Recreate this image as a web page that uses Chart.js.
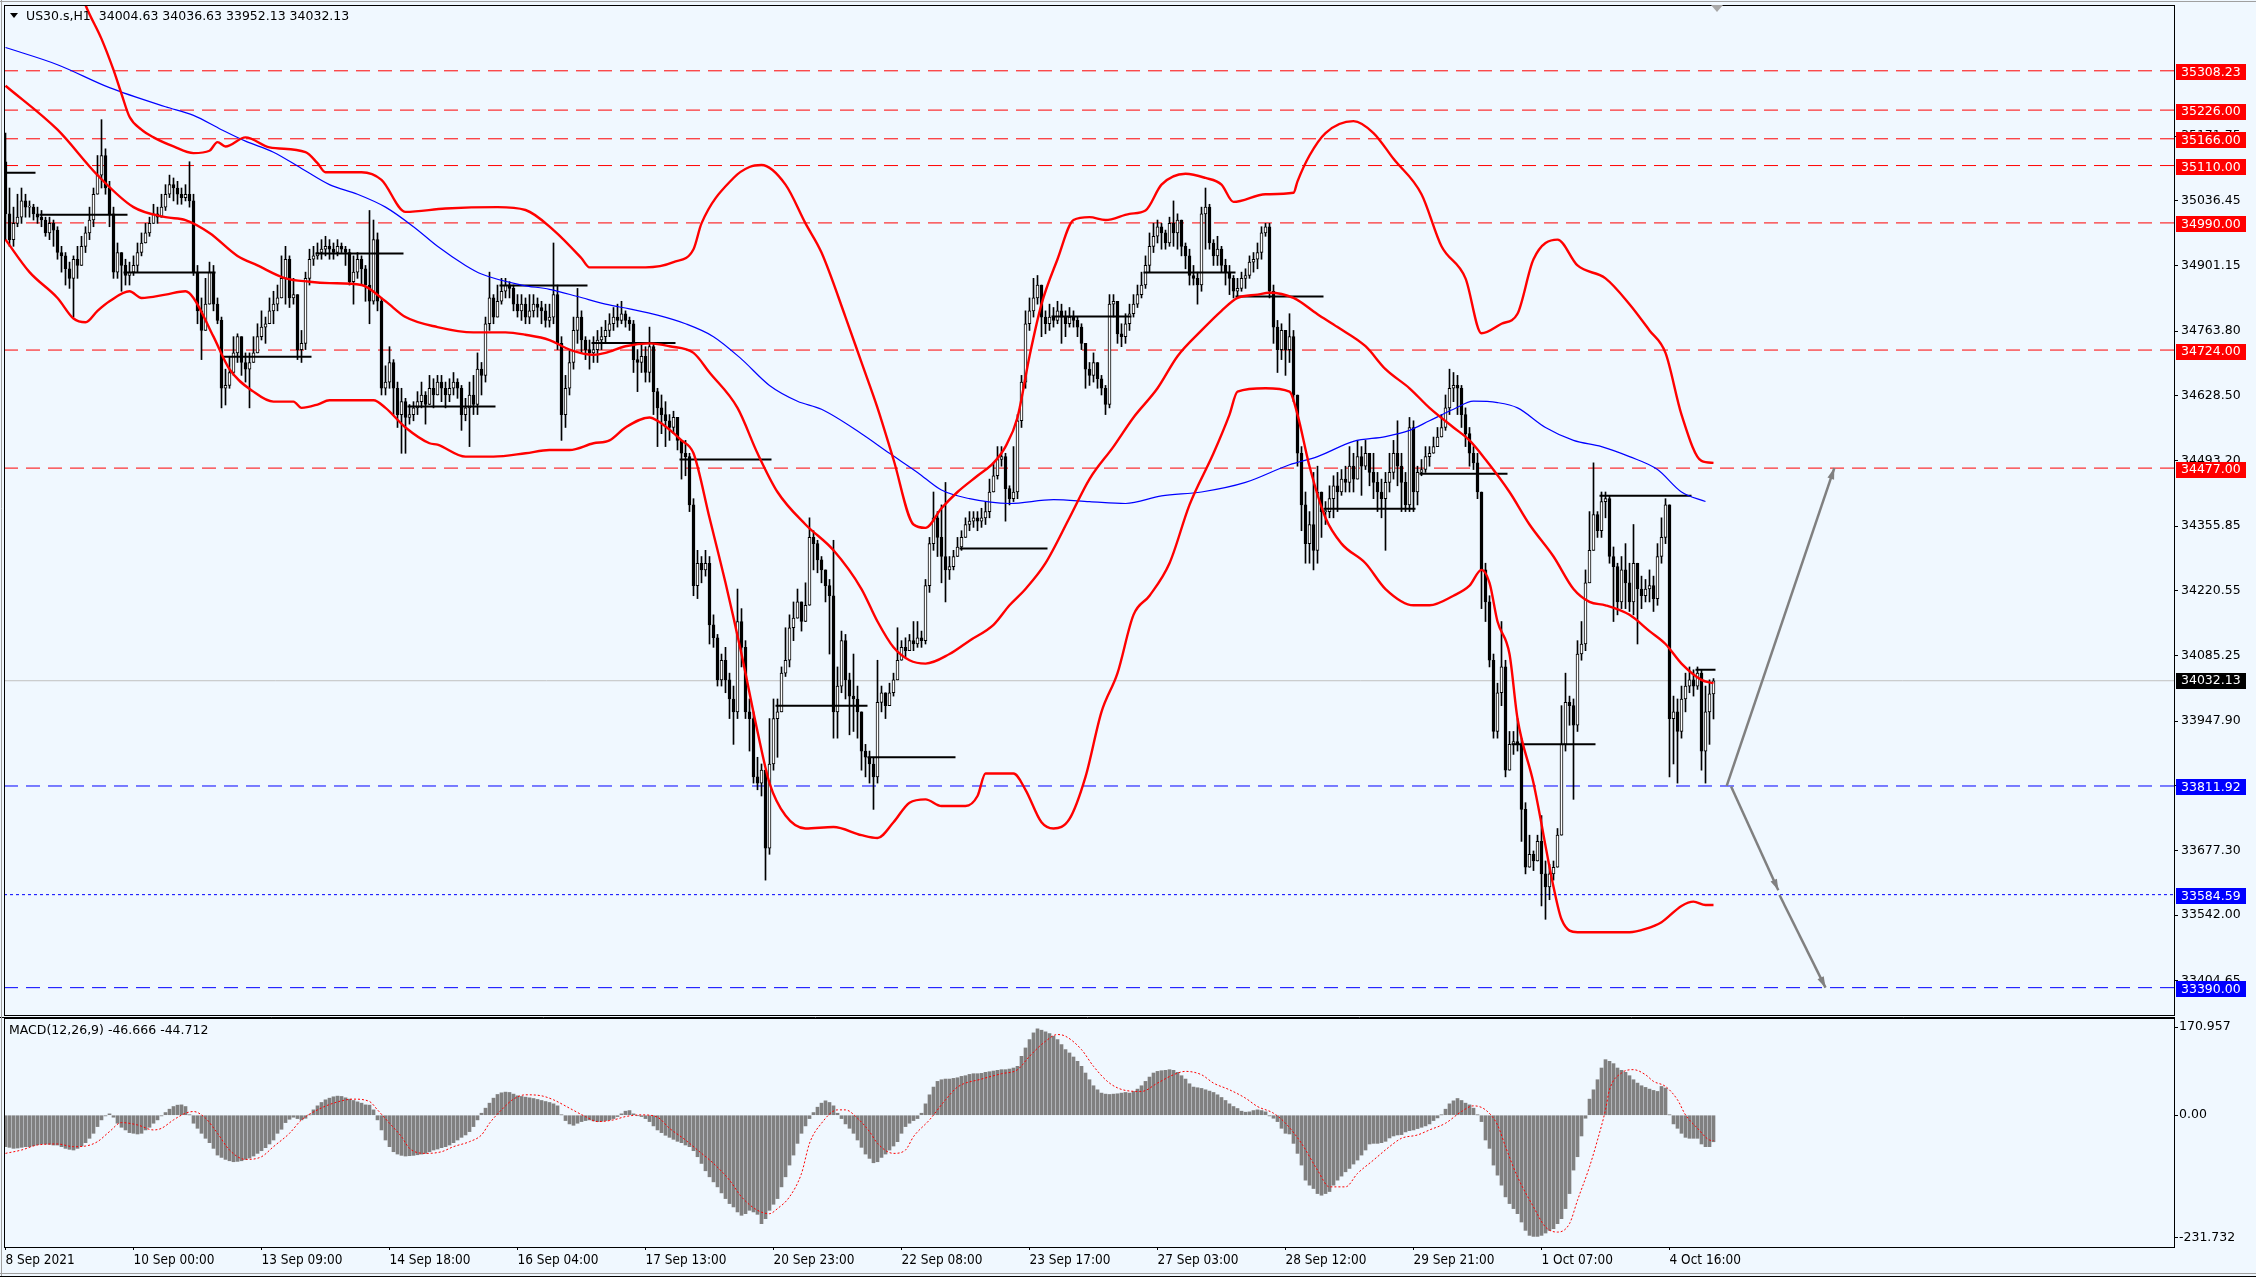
<!DOCTYPE html>
<html>
<head>
<meta charset="utf-8">
<script src="https://cdn.jsdelivr.net/npm/chart.js@4.4.0/dist/chart.umd.min.js"></script>
<style>
html, body { margin: 0; padding: 0; background: #F0F8FF; }
#wrap { position: relative; width: 2256px; height: 1277px; overflow: hidden; background: #F0F8FF; }
canvas { position: absolute; left: 0; }
#main { top: 0; }
#macd { top: 1017px; }
</style>
</head>
<body>
<div id="wrap">
  <canvas id="main" width="2256" height="1017"></canvas>
  <canvas id="macd" width="2256" height="260"></canvas>
</div>
<script>
// ---- candles (US30.s H1), bar 0 = 8 Sep 2021 ----
const firstOpen = 35118;
const closes = [
35009,34955,34989,35002,35036,35023,35023,35009,35002,34996,
34969,34989,34975,34928,34921,34894,34874,34914,34901,34941,
34969,34996,35050,35090,35131,35063,35009,34887,34928,34901,
34880,34887,34901,34928,34948,34969,34989,35009,35002,35023,
35050,35070,35063,35050,35043,35050,35036,34887,34806,34765,
34820,34887,34820,34786,34644,34650,34677,34718,34752,34698,
34684,34698,34718,34752,34772,34779,34806,34820,34833,34874,
34914,34833,34840,34725,34738,34874,34914,34921,34928,34935,
34941,34935,34928,34941,34935,34928,34867,34887,34914,34894,
34860,34826,34955,34826,34644,34657,34698,34644,34589,34616,
34583,34589,34603,34616,34630,34610,34644,34630,34657,34644,
34630,34644,34657,34644,34589,34603,34630,34610,34684,34671,
34779,34833,34793,34826,34847,34860,34853,34820,34806,34820,
34793,34806,34820,34813,34806,34786,34793,34840,34738,34589,
34644,34698,34765,34793,34745,34725,34718,34725,34745,34752,
34765,34779,34793,34786,34800,34786,34779,34704,34698,34711,
34677,34731,34637,34603,34589,34576,34562,34583,34535,34508,
34501,34400,34231,34278,34264,34278,34149,34122,34034,34075,
34034,33994,33967,34156,34102,33967,33953,33831,33818,33845,
33682,33858,33953,33967,34048,34075,34143,34163,34197,34156,
34190,34332,34319,34285,34264,34231,34210,33967,34021,34116,
34034,34000,33994,33967,33885,33872,33858,33831,33987,34007,
33980,34007,34034,34075,34102,34095,34116,34109,34122,34116,
34231,34319,34373,34332,34292,34264,34271,34292,34312,34332,
34359,34366,34373,34366,34373,34386,34427,34461,34495,34501,
34434,34413,34427,34576,34657,34779,34806,34833,34860,34793,
34779,34793,34786,34806,34793,34779,34793,34786,34772,34738,
34684,34671,34698,34664,34644,34610,34820,34826,34758,34752,
34779,34800,34820,34840,34860,34901,34941,34962,34982,34969,
34948,34989,34969,34996,34941,34921,34880,34874,34860,35009,
35023,34948,34921,34935,34901,34887,34874,34847,34853,34874,
34880,34908,34914,34928,34969,34982,34847,34772,34725,34765,
34725,34752,34630,34508,34400,34319,34359,34305,34427,34386,
34386,34413,34440,34427,34454,34447,34481,34454,34501,34481,
34508,34468,34447,34427,34413,34447,34468,34508,34481,34447,
34400,34562,34427,34468,34474,34501,34508,34522,34542,34562,
34603,34644,34650,34644,34589,34549,34508,34488,34427,34264,
34197,34075,33926,34007,34061,33845,33899,33905,33899,33763,
33642,33669,33655,33696,33628,33601,33628,33642,33709,33899,
33987,33980,33939,34088,34109,34237,34305,34380,34346,34407,
34413,34292,34271,34197,34264,34237,34197,34278,34224,34210,
34224,34231,34204,34292,34332,34400,33953,33967,33926,33994,
34021,34034,34021,34048,33885,33967,34004.63,34032.13
];
const highs = [
35178,35063,35023,35050,35063,35050,35036,35029,35023,35016,
35002,35002,34996,34982,34941,34928,34908,34921,34941,34962,
34982,35023,35063,35131,35206,35145,35077,35023,34948,34928,
34914,34908,34921,34948,34969,34989,35002,35029,35023,35050,
35070,35090,35084,35077,35063,35070,35118,35050,34901,34833,
34874,34908,34901,34833,34793,34684,34711,34752,34758,34738,
34718,34718,34752,34779,34806,34793,34833,34847,34860,34921,
34941,34921,34874,34840,34765,34887,34935,34941,34948,34955,
34962,34955,34948,34955,34948,34941,34935,34921,34928,34921,
34901,35016,34996,34969,34833,34691,34731,34704,34657,34644,
34623,34610,34616,34637,34657,34637,34671,34664,34671,34671,
34657,34664,34677,34664,34650,34623,34657,34671,34718,34698,
34793,34887,34840,34860,34874,34874,34867,34860,34840,34840,
34833,34840,34840,34833,34826,34820,34820,34948,34860,34752,
34671,34725,34793,34853,34806,34752,34745,34752,34765,34772,
34786,34800,34813,34820,34826,34806,34793,34786,34725,34738,
34731,34772,34738,34644,34630,34616,34589,34596,34576,34535,
34535,34508,34413,34305,34292,34305,34292,34170,34129,34088,
34102,34048,34021,34224,34183,34116,33994,33967,33872,33858,
33845,33953,33994,33994,34061,34143,34170,34197,34224,34190,
34237,34373,34346,34326,34292,34264,34244,34326,34061,34136,
34129,34048,34088,34021,33939,33899,33885,33872,34075,34021,
34007,34027,34048,34143,34116,34122,34129,34156,34156,34136,
34244,34332,34427,34386,34400,34447,34292,34305,34332,34346,
34373,34386,34386,34386,34393,34407,34454,34488,34522,34522,
34508,34440,34522,34589,34671,34806,34833,34874,34880,34860,
34806,34820,34813,34826,34820,34806,34813,34806,34793,34779,
34738,34698,34718,34698,34671,34650,34840,34840,34820,34779,
34800,34820,34840,34860,34887,34921,34969,34989,34996,34989,
34975,35002,35036,35009,34996,34948,34935,34901,34887,35023,
35063,35029,34955,34962,34941,34914,34901,34880,34874,34887,
34894,34921,34928,34948,34982,34989,34989,34860,34786,34779,
34752,34800,34765,34630,34522,34427,34386,34468,34481,34413,
34407,34440,34461,34468,34474,34481,34522,34508,34535,34522,
34535,34508,34508,34468,34454,34468,34508,34535,34576,34508,
34468,34583,34576,34481,34495,34522,34522,34542,34562,34589,
34630,34684,34677,34671,34650,34603,34562,34522,34508,34427,
34278,34210,34088,34027,34156,34075,33926,33926,33953,33912,
33777,33709,33676,33709,33750,33655,33648,33655,33723,33980,
34048,34000,33994,34116,34156,34264,34386,34488,34386,34427,
34427,34420,34312,34278,34292,34319,34278,34359,34251,34251,
34244,34264,34251,34319,34373,34413,34400,34000,33994,34021,
34048,34061,34055,34061,34055,34021,34034,34036.63
];
const lows = [
34955,34941,34941,34982,34989,35002,35002,34996,34989,34982,
34962,34955,34941,34914,34887,34860,34853,34793,34874,34901,
34928,34955,34982,35050,35063,35050,34982,34874,34874,34847,
34860,34860,34880,34887,34921,34948,34962,34989,34989,35002,
35016,35043,35036,35029,35029,35036,35023,34880,34779,34704,
34779,34820,34806,34779,34603,34609,34644,34671,34698,34671,
34657,34603,34698,34718,34745,34738,34779,34779,34806,34847,
34820,34813,34820,34704,34698,34725,34860,34901,34914,34914,
34921,34914,34914,34921,34928,34901,34860,34820,34874,34860,
34826,34779,34820,34806,34630,34630,34644,34589,34562,34508,
34508,34569,34576,34589,34603,34569,34610,34603,34630,34616,
34603,34616,34630,34623,34556,34576,34522,34589,34589,34630,
34657,34765,34779,34793,34820,34833,34833,34806,34793,34786,
34779,34779,34793,34793,34779,34772,34772,34779,34725,34535,
34562,34630,34684,34738,34718,34704,34684,34698,34698,34725,
34738,34752,34765,34772,34779,34772,34765,34677,34637,34677,
34657,34657,34589,34522,34549,34522,34535,34549,34515,34454,
34461,34386,34210,34204,34237,34251,34109,34102,34021,34021,
34007,33953,33899,33953,34061,33953,33885,33818,33804,33791,
33615,33669,33845,33872,33967,34041,34061,34116,34170,34136,
34156,34190,34264,34258,34237,34197,34088,33912,33912,34007,
33994,33919,33926,33912,33845,33831,33818,33763,33818,33967,
33953,33980,34000,34034,34075,34082,34095,34095,34102,34102,
34109,34217,34305,34292,34237,34197,34244,34264,34292,34305,
34332,34346,34353,34346,34353,34359,34373,34427,34454,34481,
34366,34400,34407,34413,34562,34644,34765,34793,34820,34752,
34758,34765,34772,34779,34738,34752,34772,34772,34752,34725,
34644,34650,34657,34644,34630,34589,34603,34793,34738,34731,
34738,34765,34793,34813,34833,34853,34887,34928,34948,34935,
34935,34941,34941,34935,34921,34894,34860,34860,34820,34847,
34935,34935,34901,34901,34887,34860,34840,34833,34833,34847,
34853,34874,34887,34894,34914,34962,34833,34738,34677,34704,
34671,34698,34616,34481,34346,34278,34278,34264,34278,34332,
34359,34373,34373,34386,34420,34427,34427,34427,34454,34420,
34474,34440,34413,34386,34373,34305,34427,34454,34440,34386,
34386,34386,34386,34400,34461,34468,34481,34508,34522,34542,
34556,34589,34616,34589,34562,34522,34481,34474,34413,34183,
34156,34061,33912,33912,33980,33831,33851,33878,33885,33696,
33628,33648,33635,33655,33561,33533,33574,33615,33642,33709,
33885,33939,33784,33926,34075,34095,34237,34319,34332,34332,
34373,34278,34156,34170,34183,34183,34177,34170,34109,34183,
34197,34197,34177,34190,34278,34319,33831,33858,33818,33912,
33967,34007,34000,34014,33845,33818,33899,33952.13
];

// ---- indicator lines: [bar, value] ----
const bbUpper = [[17,35520],[20,35446],[24,35375],[27,35310],[29,35260],[31,35212],[34,35185],[37,35169],[42,35150],[47,35136],[51,35141],[53,35159],[55,35150],[60,35169],[66,35148],[75,35138],[78,35115],[80,35096],[89,35096],[94,35080],[100,35013],[110,35020],[123,35023],[130,35017],[137,34975],[144,34916],[146,34897],[160,34897],[167,34908],[172,34935],[174,34989],[182,35084],[186,35107],[189,35111],[195,35070],[200,34989],[204,34928],[210,34793],[214,34698],[218,34603],[222,34495],[227,34359],[230,34352],[234,34393],[238,34427],[243,34461],[247,34488],[250,34522],[253,34583],[256,34711],[259,34820],[263,34914],[267,34996],[271,35002],[275,34996],[281,35009],[285,35016],[289,35070],[295,35093],[300,35084],[304,35070],[307,35034],[315,35050],[322,35053],[323,35077],[326,35131],[330,35178],[337,35203],[342,35178],[347,35124],[354,35050],[359,34941],[365,34874],[369,34759],[374,34779],[378,34800],[382,34914],[388,34955],[393,34901],[400,34874],[406,34820],[411,34765],[415,34718],[419,34589],[424,34492],[427,34488]];
const bbMiddle = [[0,35277],[13,35185],[23,35090],[32,35023],[40,35002],[45,34996],[51,34969],[58,34921],[63,34901],[70,34874],[76,34867],[81,34864],[89,34860],[95,34826],[100,34793],[108,34772],[117,34761],[125,34761],[130,34756],[136,34745],[141,34725],[147,34714],[150,34718],[155,34732],[161,34738],[166,34732],[172,34718],[176,34677],[183,34603],[188,34508],[193,34427],[200,34359],[207,34305],[214,34224],[218,34156],[222,34102],[226,34075],[230,34068],[236,34088],[241,34116],[247,34149],[251,34190],[255,34224],[260,34278],[266,34373],[271,34454],[277,34522],[282,34583],[288,34644],[293,34711],[299,34765],[304,34806],[308,34833],[313,34840],[316,34844],[322,34833],[328,34799],[333,34772],[340,34732],[345,34684],[351,34644],[356,34603],[362,34562],[366,34535],[370,34495],[376,34427],[381,34359],[387,34292],[392,34224],[396,34197],[400,34190],[406,34170],[411,34136],[415,34109],[419,34068],[424,34034],[427,34027]];
const bbLower = [[0,34955],[6,34887],[13,34833],[17,34790],[20,34782],[23,34806],[26,34826],[31,34847],[34,34833],[40,34840],[45,34847],[47,34833],[52,34752],[56,34684],[62,34637],[67,34616],[72,34616],[74,34603],[78,34610],[81,34619],[92,34619],[95,34603],[100,34562],[106,34529],[108,34526],[115,34501],[122,34501],[130,34508],[136,34515],[141,34515],[147,34529],[151,34535],[155,34562],[161,34583],[163,34576],[169,34535],[172,34508],[176,34373],[180,34237],[184,34088],[188,33926],[191,33818],[195,33750],[200,33723],[207,33726],[214,33709],[218,33703],[222,33736],[226,33777],[230,33784],[234,33770],[240,33770],[243,33791],[245,33838],[252,33838],[255,33804],[259,33736],[262,33723],[266,33743],[270,33831],[274,33967],[278,34048],[282,34170],[286,34210],[291,34278],[296,34400],[302,34508],[306,34589],[308,34637],[315,34644],[321,34637],[323,34589],[326,34481],[330,34373],[334,34319],[340,34278],[345,34224],[352,34190],[356,34190],[362,34210],[366,34231],[369,34264],[371,34237],[373,34156],[376,34088],[378,33953],[382,33818],[387,33601],[389,33533],[393,33506],[399,33506],[406,33506],[410,33513],[414,33527],[419,33561],[422,33570],[425,33563],[427,33563]];
const maLine = [[0,35357],[13,35321],[26,35273],[40,35233],[47,35215],[54,35185],[60,35161],[67,35138],[74,35104],[81,35070],[88,35050],[95,35023],[102,34982],[108,34941],[115,34901],[119,34883],[129,34860],[136,34851],[143,34836],[150,34820],[156,34810],[163,34797],[170,34779],[177,34752],[184,34705],[191,34650],[198,34617],[204,34600],[214,34549],[221,34508],[228,34468],[234,34431],[241,34413],[251,34403],[262,34411],[271,34407],[280,34403],[289,34419],[299,34427],[310,34447],[321,34484],[328,34501],[337,34533],[345,34543],[351,34556],[356,34576],[362,34600],[367,34617],[373,34614],[378,34603],[385,34562],[392,34535],[399,34522],[406,34501],[413,34474],[419,34427],[425,34407]];

// daily level segments: [fromBar, toBar, price]
const dayLevels = [[0,7,35095],[9,30,35007],[30,52,34886],[55,76,34710],[78,99,34926],[101,122,34606],[124,145,34859],[147,167,34739],[169,191,34495],[193,215,33980],[216,237,33872],[239,260,34309],[262,281,34794],[285,307,34886],[308,329,34836],[330,352,34392],[354,375,34465],[377,397,33899],[399,421,34419],[423,427,34055]];

// horizontal levels
const redLevels = [35308.23, 35226.00, 35166.00, 35110.00, 34990.00, 34724.00, 34477.00];
const blueLevels = [33811.92, 33390.00];
const dotLevels = [33584.59];
const lastPrice = 34032.13;

// projection arrows: [[bar, price], [bar, price]]
const arrows = [
  [[430.3, 33812], [457.2, 34477]],
  [[431.4, 33811], [443.2, 33594]],
  [[443.5, 33584], [455.0, 33390]]
];

// ---- MACD(12,26,9) ----
const macdHist = [
-55.3,-56.5,-58.3,-57.7,-56.5,-55.3,-55.3,-53.6,-51.8,-50.6,
-50.6,-51.2,-52.4,-52.4,-55.3,-58.3,-60.0,-61.2,-58.3,-54.2,
-48.3,-40.6,-31.8,-20.0,-8.2,-1.2,2.4,-3.5,-14.1,-21.2,
-25.9,-30.6,-31.8,-33.0,-31.8,-25.9,-21.2,-14.1,-8.2,-1.2,
4.7,10.6,15.3,17.7,18.2,15.3,0.6,-14.1,-23.0,-31.8,
-40.6,-48.3,-58.3,-70.1,-74.2,-77.7,-80.1,-81.8,-81.2,-80.1,
-77.7,-75.4,-71.8,-67.1,-62.4,-57.1,-50.6,-43.6,-31.8,-24.7,
-13.0,-7.1,-3.5,-5.9,-8.2,-5.3,0.6,9.4,16.5,22.4,
27.1,30.0,32.4,33.6,33.0,30.6,28.3,25.9,23.5,21.2,
18.2,17.7,9.4,-8.2,-25.9,-43.6,-55.3,-64.2,-68.3,-70.6,
-71.8,-71.2,-70.6,-69.5,-68.3,-67.1,-64.2,-61.2,-59.5,-57.1,
-55.3,-52.4,-48.3,-43.6,-38.9,-34.7,-28.8,-20.0,-8.2,3.5,
12.4,21.2,30.0,36.5,39.4,40.6,40.0,37.1,34.1,33.0,
31.8,30.6,29.4,27.7,25.9,24.1,22.4,20.0,16.5,0.6,
-9.4,-15.3,-17.7,-14.1,-11.2,-9.4,-8.2,-10.0,-11.2,-10.6,
-9.4,-8.2,-5.9,-2.4,2.4,7.1,8.2,2.4,-0.6,-2.4,
-5.9,-11.2,-18.8,-25.9,-30.6,-35.3,-38.9,-42.4,-45.9,-48.3,
-52.4,-55.3,-62.4,-73.0,-84.8,-97.7,-108.3,-117.2,-126.0,-136.6,
-146.6,-155.4,-161.3,-170.1,-176.0,-173.1,-167.2,-170.1,-174.3,-190.7,
-181.9,-167.2,-156.6,-146.6,-126.0,-108.3,-87.7,-70.1,-49.5,-31.8,
-18.8,-5.9,4.7,14.1,21.2,25.3,22.4,16.5,3.5,-5.9,
-15.3,-23.0,-31.8,-43.6,-56.5,-68.3,-75.9,-83.6,-81.8,-74.2,
-68.3,-61.2,-54.2,-46.5,-31.8,-20.0,-14.1,-9.4,-5.9,3.5,
20.0,35.9,49.5,59.5,62.4,63.6,63.6,64.8,65.9,68.3,
69.5,71.8,73.0,73.0,73.6,75.4,76.5,77.7,78.9,80.1,
80.1,81.2,83.0,86.0,103.6,118.3,133.0,144.8,151.9,149.5,
146.6,143.6,138.9,133.0,124.2,115.4,109.5,102.4,94.8,86.0,
74.2,62.4,51.8,44.7,38.9,37.1,36.5,37.1,37.7,38.9,
40.0,38.9,41.8,45.9,51.8,59.5,67.1,74.2,77.1,78.3,
78.9,80.1,78.9,75.4,69.5,63.6,55.3,49.5,48.3,47.1,
44.7,42.4,40.0,35.9,31.2,25.9,20.0,15.3,11.8,7.1,
5.3,5.9,8.2,9.4,8.2,5.9,-1.2,-5.3,-11.2,-23.0,
-31.8,-33.0,-49.5,-67.1,-87.7,-114.2,-123.0,-128.9,-137.8,-140.7,
-137.8,-134.2,-123.0,-114.2,-107.1,-99.5,-93.6,-85.9,-78.9,-70.1,
-61.2,-50.6,-49.5,-49.5,-48.3,-45.9,-40.0,-36.5,-34.7,-34.1,
-29.4,-27.1,-25.9,-23.5,-21.2,-18.8,-15.3,-9.4,-4.7,0.6,
10.6,20.0,25.3,29.4,25.9,21.2,18.2,12.4,0.6,-11.2,
-43.6,-58.3,-87.7,-105.4,-123.0,-143.6,-155.4,-164.2,-173.1,-187.8,
-202.5,-211.3,-213.1,-213.1,-211.3,-207.2,-202.5,-199.6,-190.7,-181.9,
-164.2,-137.8,-96.5,-73.0,-36.5,-5.3,28.3,44.7,62.4,83.0,
97.7,94.8,90.7,83.0,78.9,75.4,69.5,62.4,56.5,51.8,
48.9,45.9,43.6,41.8,50.6,47.7,0.6,-15.3,-23.0,-31.8,
-38.9,-40.6,-40.6,-40.6,-50.6,-55.3,-55.3,-46.666
];
const macdSignal = [[0,-67.1],[4,-61.2],[8,-52.4],[13,-50.6],[17,-55.3],[20,-54.2],[23,-46.5],[26,-28.8],[29,-13],[33,-17.1],[37,-25.9],[39,-23],[42,-8.2],[45,3.5],[47,6.5],[50,-5.3],[53,-31.8],[56,-61.2],[60,-77.7],[64,-73],[67,-55.3],[71,-31.8],[74,-8.2],[78,9.4],[82,21.2],[87,28.3],[91,24.1],[93,9.4],[96,-14.1],[99,-37.7],[101,-58.3],[105,-67.1],[109,-64.2],[112,-55.3],[116,-46.5],[119,-34.7],[121,-14.1],[124,9.4],[127,28.3],[130,35.9],[134,34.1],[137,27.1],[141,12.4],[145,-2.4],[148,-11.2],[152,-8.2],[155,-2.4],[159,0.6],[163,-3.5],[166,-23],[170,-43.6],[173,-61.2],[177,-84.8],[181,-114.2],[184,-143.6],[188,-167.2],[191,-173.1],[193,-164.2],[196,-143.6],[199,-102.4],[201,-49.5],[204,-14.1],[208,9.4],[210,9.4],[213,-5.3],[216,-28.8],[218,-49.5],[222,-67.1],[225,-61.2],[227,-37.7],[231,-8.2],[235,27.1],[238,49.5],[244,63.6],[249,73],[253,80.1],[256,103.6],[260,130.1],[263,141.9],[265,138.9],[269,115.4],[272,86],[276,56.5],[280,43.6],[284,41.8],[288,56.5],[292,71.2],[295,77.1],[299,71.2],[302,56.5],[306,44.7],[310,30],[313,15.3],[317,3.5],[320,-14.1],[324,-49.5],[328,-96.5],[331,-126],[335,-126],[338,-102.4],[342,-78.9],[346,-55.3],[349,-40.6],[353,-34.7],[356,-25.9],[360,-14.1],[364,6.5],[367,16.5],[370,9.4],[373,-17.1],[375,-55.3],[378,-108.3],[382,-161.3],[385,-196.6],[388,-205.5],[391,-190.7],[393,-149.5],[396,-90.7],[398,-43.6],[400,9.4],[401,44.7],[404,74.2],[407,80.1],[410,71.2],[412,59.5],[415,50.6],[418,27.1],[420,0.6],[423,-23],[426,-43.6],[427,-44.712]];

// ---- axes ----
const priceTicks = [35171.75, 35036.45, 34901.15, 34763.80, 34628.50, 34493.20, 34355.85, 34220.55, 34085.25, 33947.90, 33812.60, 33677.30, 33542.00, 33404.65];
const dateBars = [0, 32, 64, 96, 128, 160, 192, 224, 256, 288, 320, 352, 384, 416];
const dateLabels = ['8 Sep 2021', '10 Sep 00:00', '13 Sep 09:00', '14 Sep 18:00', '16 Sep 04:00', '17 Sep 13:00', '20 Sep 23:00', '22 Sep 08:00', '23 Sep 17:00', '27 Sep 03:00', '28 Sep 12:00', '29 Sep 21:00', '1 Oct 07:00', '4 Oct 16:00'];
const macdTickVals = [155.1, 0, -215.3];
const macdTickLabels = ['170.957', '0.00', '-231.732'];

const X_MIN = -0.375, X_MAX = 542.125;
const AXIS_W = 82;
const FONT = '"DejaVu Sans", Verdana, sans-serif';
const DATE_FONT = '"Liberation Sans Narrow", "DejaVu Sans Condensed", "Liberation Sans", sans-serif';

const pts = arr => arr.map(([x, y]) => ({x: x, y: y}));

// candle pieces
const opens = closes.map((c, i) => i === 0 ? firstOpen : closes[i - 1]);
const wickData = closes.map((c, i) => ({x: i, y: [Math.min(lows[i], opens[i], c), Math.max(highs[i], opens[i], c)]}));
const bodyData = closes.map((c, i) => ({x: i, y: [opens[i], c]}));
const bodyColors = closes.map((c, i) => c >= opens[i] ? '#FFFFFF' : '#000000');

function hline(v, color, dash, width) {
  return {
    type: 'line', data: [{x: X_MIN, y: v}, {x: X_MAX, y: v}],
    borderColor: color, borderWidth: width || 1, borderDash: dash,
    pointRadius: 0, order: 6
  };
}

function smoothLine(arr, color, width, order) {
  return {
    type: 'line', data: pts(arr), borderColor: color, borderWidth: width,
    pointRadius: 0, cubicInterpolationMode: 'monotone', order: order
  };
}

const segData = [];
dayLevels.forEach(([a, b, v]) => {
  segData.push({x: a - 0.5, y: v}, {x: b + 0.5, y: v}, {x: b + 0.6, y: null});
});

const mainDecor = {
  id: 'mainDecor',
  beforeDraw(chart) {
    const ctx = chart.ctx;
    ctx.save();
    ctx.fillStyle = '#F0F8FF';
    ctx.fillRect(0, 0, chart.width, chart.height);
    ctx.restore();
  },
  afterDatasetsDraw(chart) {
    const ctx = chart.ctx, xs = chart.scales.x, ys = chart.scales.y;
    ctx.save();
    ctx.fillStyle = '#808080';
    arrows.forEach(([p0, p1]) => {
      const x0 = xs.getPixelForValue(p0[0]), y0 = ys.getPixelForValue(p0[1]);
      const x1 = xs.getPixelForValue(p1[0]), y1 = ys.getPixelForValue(p1[1]);
      const ang = Math.atan2(y1 - y0, x1 - x0);
      ctx.beginPath();
      ctx.moveTo(x1, y1);
      ctx.lineTo(x1 - 11 * Math.cos(ang) + 3.5 * Math.sin(ang), y1 - 11 * Math.sin(ang) - 3.5 * Math.cos(ang));
      ctx.lineTo(x1 - 11 * Math.cos(ang) - 3.5 * Math.sin(ang), y1 - 11 * Math.sin(ang) + 3.5 * Math.cos(ang));
      ctx.closePath();
      ctx.fill();
    });
    ctx.restore();
  },
  afterDraw(chart) {
    const ctx = chart.ctx, a = chart.chartArea, ys = chart.scales.y;
    ctx.save();
    // frame
    ctx.strokeStyle = '#000';
    ctx.lineWidth = 1;
    ctx.strokeRect(Math.round(a.left) + 0.5, Math.round(a.top) + 0.5, Math.round(a.right - a.left), Math.round(a.bottom - a.top));
    ctx.strokeStyle = '#A0A0A0';
    ctx.beginPath(); ctx.moveTo(0, 1.5); ctx.lineTo(chart.width, 1.5); ctx.stroke();
    ctx.beginPath(); ctx.moveTo(1.5, 0); ctx.lineTo(1.5, chart.height); ctx.stroke();
    // chart shift marker
    ctx.fillStyle = '#A8A8A8';
    ctx.beginPath(); ctx.moveTo(1711, 5); ctx.lineTo(1723, 5); ctx.lineTo(1717, 12); ctx.closePath(); ctx.fill();
    // title
    ctx.fillStyle = '#000';
    ctx.beginPath(); ctx.moveTo(10, 13); ctx.lineTo(18, 13); ctx.lineTo(14, 18); ctx.closePath(); ctx.fill();
    ctx.font = '12.5px ' + FONT;
    ctx.textBaseline = 'middle';
    ctx.textAlign = 'left';
    ctx.fillText('US30.s,H1  34004.63 34036.63 33952.13 34032.13', 26, 17);
    // price labels
    const box = (v, bg, up, down) => {
      const y = ys.getPixelForValue(v);
      ctx.fillStyle = bg;
      ctx.fillRect(2176, Math.round(y - up), 70, up + down);
      ctx.fillStyle = '#FFFFFF';
      ctx.fillText(v.toFixed(2), 2181, y + (down - up) / 2 + 0.5);
    };
    redLevels.forEach(v => box(v, '#FF0000', 6.5, 9.5));
    blueLevels.concat(dotLevels).forEach(v => box(v, '#0000FF', 6.5, 9.5));
    box(lastPrice, '#000000', 8, 8);
    ctx.restore();
  }
};

new Chart(document.getElementById('main'), {
  type: 'bar',
  data: {
    datasets: [
      ...arrows.map(ar => ({type: 'line', data: pts(ar), borderColor: '#808080', borderWidth: 2.5, pointRadius: 0, order: 0})),
      smoothLine(bbUpper, '#FF0000', 2.4, 1),
      smoothLine(bbMiddle, '#FF0000', 2.4, 1),
      smoothLine(bbLower, '#FF0000', 2.4, 1),
      smoothLine(maLine, '#0000FF', 1.2, 1),
      {type: 'line', data: segData, borderColor: '#000000', borderWidth: 2, pointRadius: 0, spanGaps: false, order: 2},
      {type: 'bar', data: bodyData, backgroundColor: bodyColors, borderColor: '#000000', borderWidth: 1, borderSkipped: false, barThickness: 3, grouped: false, minBarLength: 1, order: 3},
      {type: 'bar', data: wickData, backgroundColor: '#000000', borderWidth: 0, barThickness: 1, grouped: false, order: 4},
      ...redLevels.map(v => hline(v, '#FF0000', [14, 8])),
      ...blueLevels.map(v => hline(v, '#0000FF', [14, 8])),
      ...dotLevels.map(v => hline(v, '#0000FF', [3, 3])),
      hline(lastPrice, '#C0C0C0', [])
    ]
  },
  options: {
    responsive: false, animation: false, devicePixelRatio: 1, events: [],
    layout: {padding: {left: 4, top: 5, right: 0, bottom: 2}},
    plugins: {legend: {display: false}, tooltip: {enabled: false}},
    scales: {
      x: {type: 'linear', min: X_MIN, max: X_MAX, offset: false, display: false, grid: {offset: false}},
      y: {
        type: 'linear', position: 'right', min: 33332.8, max: 35445.9,
        afterBuildTicks: s => { s.ticks = priceTicks.map(v => ({value: v})); },
        afterFit: s => { s.width = AXIS_W; s.paddingTop = 0; s.paddingBottom = 0; },
        ticks: {callback: v => Number(v).toFixed(2), color: '#000', font: {family: FONT, size: 12.5}, padding: 3, autoSkip: false},
        grid: {drawOnChartArea: false, drawTicks: true, tickLength: 4, color: '#000'},
        border: {display: false}
      }
    }
  },
  plugins: [mainDecor]
});

const macdDecor = {
  id: 'macdDecor',
  beforeDraw(chart) {
    const ctx = chart.ctx;
    ctx.save();
    ctx.fillStyle = '#F0F8FF';
    ctx.fillRect(0, 0, chart.width, chart.height);
    ctx.restore();
  },
  afterDraw(chart) {
    const ctx = chart.ctx, a = chart.chartArea;
    ctx.save();
    ctx.strokeStyle = '#000';
    ctx.lineWidth = 1;
    ctx.strokeRect(Math.round(a.left) + 0.5, Math.round(a.top) + 0.5, Math.round(a.right - a.left), Math.round(a.bottom - a.top));
    ctx.beginPath(); ctx.moveTo(0, 0.5); ctx.lineTo(Math.round(a.right) + 1, 0.5); ctx.stroke();
    ctx.strokeStyle = '#A0A0A0';
    ctx.beginPath(); ctx.moveTo(0, 256.5); ctx.lineTo(chart.width, 256.5); ctx.stroke();
    ctx.beginPath(); ctx.moveTo(1.5, 0); ctx.lineTo(1.5, chart.height); ctx.stroke();
    ctx.strokeStyle = '#000';
    ctx.beginPath(); ctx.moveTo(0, 259.5); ctx.lineTo(chart.width, 259.5); ctx.stroke();
    ctx.fillStyle = '#000';
    ctx.font = '12.5px ' + FONT;
    ctx.textBaseline = 'middle';
    ctx.textAlign = 'left';
    ctx.fillText('MACD(12,26,9) -46.666 -44.712', 9, 14);
    ctx.restore();
  }
};

new Chart(document.getElementById('macd'), {
  type: 'bar',
  data: {
    datasets: [
      {type: 'line', data: pts(macdSignal), borderColor: '#FF0000', borderWidth: 1, borderDash: [2, 2], pointRadius: 0, cubicInterpolationMode: 'monotone', order: 0},
      {type: 'bar', data: macdHist.map((v, i) => ({x: i, y: v})), backgroundColor: '#808080', borderWidth: 0, barThickness: 3, grouped: false, order: 1}
    ]
  },
  options: {
    responsive: false, animation: false, devicePixelRatio: 1, events: [],
    layout: {padding: {left: 4, top: 1, right: 0, bottom: 0}},
    plugins: {legend: {display: false}, tooltip: {enabled: false}},
    scales: {
      x: {
        type: 'linear', min: X_MIN, max: X_MAX, offset: false,
        afterBuildTicks: s => { s.ticks = dateBars.map(v => ({value: v})); },
        afterFit: s => { s.height = 30; s.paddingLeft = 0; s.paddingRight = 0; },
        ticks: {callback: (v, i) => dateLabels[i], align: 'start', maxRotation: 0, autoSkip: false, color: '#000', font: {family: DATE_FONT, size: 13.5}, padding: 2},
        grid: {offset: false, drawOnChartArea: false, drawTicks: true, tickLength: 3, color: '#000'},
        border: {display: false}
      },
      y: {
        type: 'linear', position: 'right', min: -231.732, max: 170.957,
        afterBuildTicks: s => { s.ticks = macdTickVals.map(v => ({value: v})); },
        afterFit: s => { s.width = AXIS_W; s.paddingTop = 0; s.paddingBottom = 0; },
        ticks: {callback: (v, i) => macdTickLabels[i], color: '#000', font: {family: FONT, size: 12.5}, padding: 1, autoSkip: false},
        grid: {drawOnChartArea: false, drawTicks: true, tickLength: 4, color: '#000'},
        border: {display: false}
      }
    }
  },
  plugins: [macdDecor]
});
</script>
</body>
</html>
